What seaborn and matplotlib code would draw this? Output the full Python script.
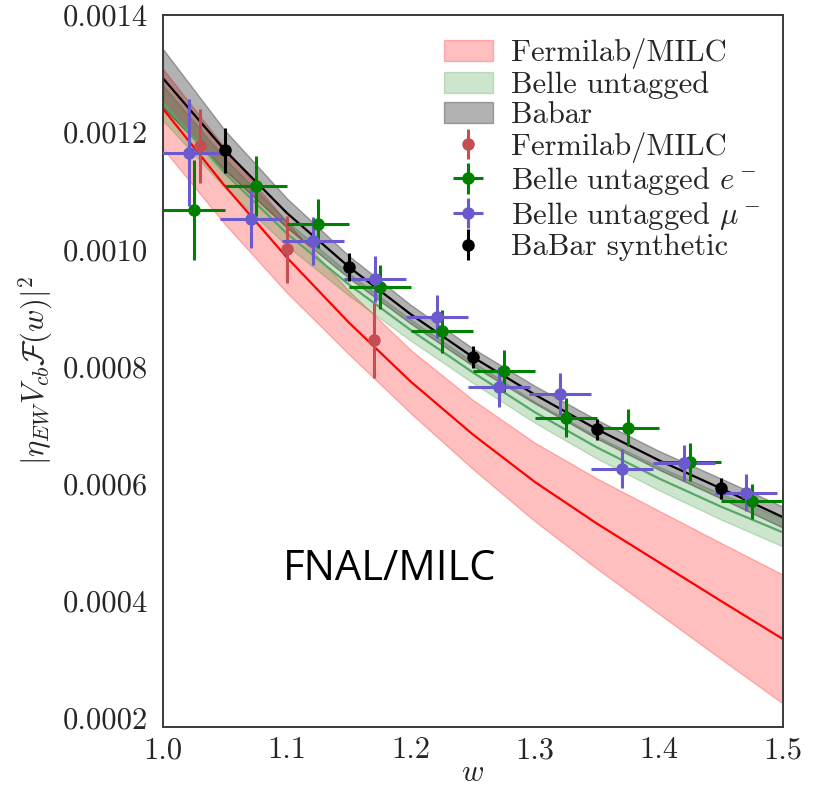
import matplotlib
matplotlib.use("Agg")
import matplotlib.pyplot as plt
import seaborn as sns

# --- values ---
w_grid = [1.00, 1.05, 1.10, 1.15, 1.20, 1.25, 1.30, 1.35, 1.40, 1.45, 1.50]

# lattice (Fermilab/MILC) prediction band
fnal_center = [0.001240, 0.001108, 0.000986, 0.000875, 0.000774, 0.000684,
               0.000603, 0.000532, 0.000466, 0.000400, 0.000335]
fnal_half = [0.000068, 0.000065, 0.000060, 0.000054, 0.000054, 0.000059,
             0.000067, 0.000077, 0.000088, 0.000099, 0.000110]

# Belle untagged fit band
belle_center = [0.001250, 0.001130, 0.001027, 0.000940, 0.000862, 0.000790,
                0.000722, 0.000662, 0.000609, 0.000561, 0.000517]
belle_half = [0.000030, 0.000025, 0.000021, 0.000019, 0.000018, 0.000018,
              0.000018, 0.000019, 0.000020, 0.000022, 0.000024]

# BaBar fit band
babar_center = [0.001292, 0.001169, 0.001062, 0.000970, 0.000889, 0.000816,
                0.000752, 0.000693, 0.000640, 0.000592, 0.000543]
babar_half = [0.000050, 0.000034, 0.000025, 0.000019, 0.000016, 0.000015,
              0.000015, 0.000016, 0.000016, 0.000017, 0.000018]

# data points
fnal_w = [1.03, 1.10, 1.17]
fnal_val = [0.001177, 0.001000, 0.000845]
fnal_err = [0.000063, 0.000057, 0.000064]

belle_e_w = [1.025, 1.075, 1.125, 1.175, 1.225, 1.275, 1.325, 1.375, 1.425, 1.475]
belle_e_val = [0.001067, 0.001108, 0.001044, 0.000936, 0.000860, 0.000793,
               0.000713, 0.000696, 0.000637, 0.000570]
belle_e_err = [0.000085, 0.000051, 0.000042, 0.000037, 0.000037, 0.000036,
               0.000034, 0.000032, 0.000033, 0.000030]

belle_mu_w = [1.021, 1.071, 1.121, 1.171, 1.221, 1.271, 1.320, 1.370, 1.420, 1.470]
belle_mu_val = [0.001165, 0.001052, 0.001015, 0.000949, 0.000885, 0.000765,
                0.000753, 0.000626, 0.000635, 0.000585]
belle_mu_err = [0.000091, 0.000050, 0.000041, 0.000039, 0.000037, 0.000034,
                0.000036, 0.000033, 0.000031, 0.000031]
bin_half = 0.025

babar_w = [1.05, 1.15, 1.25, 1.35, 1.45]
babar_val = [0.001169, 0.000970, 0.000816, 0.000693, 0.000592]
babar_err = [0.000038, 0.000024, 0.000019, 0.000018, 0.000018]

# --- style ---
sns.set_style("white")
plt.rcParams['font.family'] = ['cmr10', 'DejaVu Serif']
plt.rcParams['mathtext.fontset'] = 'cm'
plt.rcParams['axes.formatter.use_mathtext'] = True
plt.rcParams['axes.unicode_minus'] = False

deep = sns.color_palette("deep")

fig, ax = plt.subplots(figsize=(8.23, 7.89), dpi=100)
fig.subplots_adjust(left=0.198, right=0.9514, top=0.981, bottom=0.0786)

def band(center, half):
    lo = [c - h for c, h in zip(center, half)]
    hi = [c + h for c, h in zip(center, half)]
    return lo, hi

lo, hi = band(fnal_center, fnal_half)
h_fnal = ax.fill_between(w_grid, lo, hi, color='red', alpha=0.25, lw=1, zorder=1)
sns.lineplot(x=w_grid, y=fnal_center, color='red', lw=1.6, ax=ax, zorder=2)

lo, hi = band(belle_center, belle_half)
h_belle = ax.fill_between(w_grid, lo, hi, color='green', alpha=0.2, lw=1, zorder=1)
sns.lineplot(x=w_grid, y=belle_center, color=deep[2], lw=1.6, ax=ax, zorder=2)

lo, hi = band(babar_center, babar_half)
h_babar = ax.fill_between(w_grid, lo, hi, color='black', alpha=0.3, lw=1, zorder=1)
sns.lineplot(x=w_grid, y=babar_center, color='black', lw=1.6, ax=ax, zorder=2)

eb = dict(fmt='o', ms=8, elinewidth=2.2, capsize=0, zorder=3)
e_fnal = ax.errorbar(fnal_w, fnal_val, yerr=fnal_err, color=deep[3], **eb)
e_bel_e = ax.errorbar(belle_e_w, belle_e_val, xerr=bin_half, yerr=belle_e_err,
                      color='green', **eb)
e_bel_mu = ax.errorbar(belle_mu_w, belle_mu_val, xerr=bin_half, yerr=belle_mu_err,
                       color='slateblue', **eb)
e_babar = ax.errorbar(babar_w, babar_val, yerr=babar_err, color='black', **eb)

ax.set_xlim(1.0, 1.5)
ax.set_ylim(0.000185, 0.0014)
ax.set_xticks([1.0, 1.1, 1.2, 1.3, 1.4, 1.5])
ax.set_xticklabels(['1.0', '1.1', '1.2', '1.3', '1.4', '1.5'])
yt = [0.0002, 0.0004, 0.0006, 0.0008, 0.0010, 0.0012, 0.0014]
ax.set_yticks(yt)
ax.set_yticklabels([f"{v:.4f}" for v in yt])
ax.tick_params(axis='both', labelsize=22, length=0)
ax.tick_params(axis='y', pad=11)
ax.tick_params(axis='x', pad=7)

for s in ax.spines.values():
    s.set_color('#3a3a3a')
    s.set_linewidth(1.4)

ax.set_xlabel(r'$w$', fontsize=22, labelpad=-3)
ax.set_ylabel(r'$|\eta_{EW}V_{cb}\mathcal{F}(w)|^2$', fontsize=22, labelpad=5)

ax.legend([h_fnal, h_belle, h_babar, e_fnal, e_bel_e, e_bel_mu, e_babar],
          ['Fermilab/MILC', 'Belle untagged', 'Babar', 'Fermilab/MILC',
           r'Belle untagged $e^-$', r'Belle untagged $\mu^-$', 'BaBar synthetic'],
          loc='upper right', frameon=False, fontsize=22, handlelength=1.6,
          handletextpad=0.6, labelspacing=0.08, borderaxespad=0.35)

ax.text(1.0968, 0.000436, 'FNAL/MILC', family='Open Sans', fontsize=30,
        color='black', ha='left', va='baseline')

fig.savefig('out.png', dpi=100)
